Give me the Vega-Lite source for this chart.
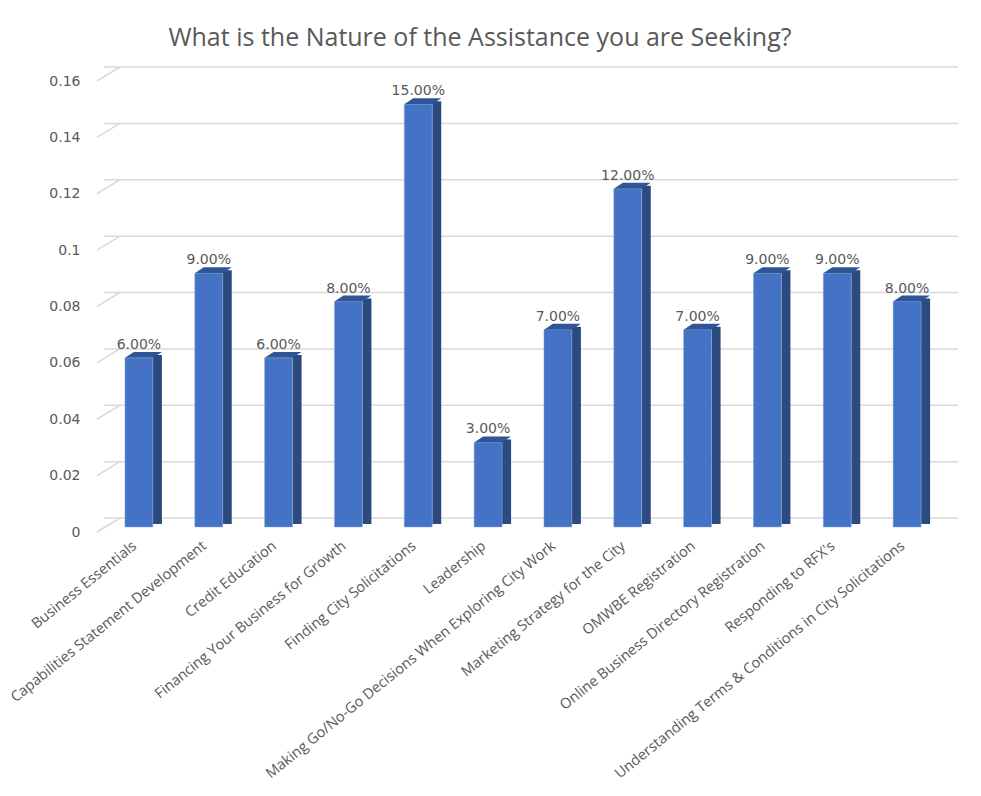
{
  "$schema": "https://vega.github.io/schema/vega-lite/v6.json",
  "autosize": "none",
  "width": 838,
  "height": 451,
  "padding": {"left": 104, "top": 76, "right": 39, "bottom": 269},
  "background": "white",
  "title": {
    "text": "What is the Nature of the Assistance you are Seeking?",
    "anchor": "middle",
    "dx": -43,
    "offset": 15,
    "font": "Open Sans",
    "fontSize": 25,
    "fontWeight": "normal",
    "color": "#595959"
  },
  "datasets": {
    "bars": [
      {"category": "Business Essentials", "share": 0.06},
      {"category": "Capabilities Statement Development", "share": 0.09},
      {"category": "Credit Education", "share": 0.06},
      {"category": "Financing Your Business for Growth", "share": 0.08},
      {"category": "Finding City Solicitations", "share": 0.15},
      {"category": "Leadership", "share": 0.03},
      {"category": "Making Go/No-Go Decisions When Exploring City Work", "share": 0.07},
      {"category": "Marketing Strategy for the City", "share": 0.12},
      {"category": "OMWBE Registration", "share": 0.07},
      {"category": "Online Business Directory Registration", "share": 0.09},
      {"category": "Responding to RFX's", "share": 0.09},
      {"category": "Understanding Terms & Conditions in City Solicitations", "share": 0.08}
    ],
    "ticks": [
      {"tick": 0}, {"tick": 0.02}, {"tick": 0.04}, {"tick": 0.06}, {"tick": 0.08},
      {"tick": 0.1}, {"tick": 0.12}, {"tick": 0.14}, {"tick": 0.16}
    ]
  },
  "layer": [
    {
      "data": {"name": "ticks"},
      "mark": {"type": "rule", "color": "#d9d9d9", "strokeWidth": 1.5, "xOffset": 16, "yOffset": -9},
      "encoding": {
        "y": {
          "field": "tick", "type": "quantitative", "title": null,
          "scale": {"domain": [0, 0.16]},
          "axis": {
            "values": [0, 0.02, 0.04, 0.06, 0.08, 0.1, 0.12, 0.14, 0.16],
            "format": ".2~f", "grid": false, "domain": false, "ticks": false,
            "labelPadding": 24, "labelOffset": 5, "labelFont": "DejaVu Sans",
            "labelFontSize": 14, "labelColor": "#595959"
          }
        }
      }
    },
    {
      "data": {"name": "ticks"},
      "mark": {"type": "rule", "color": "#d9d9d9", "strokeWidth": 1.5, "xOffset": -42, "x2Offset": -19, "yOffset": 5, "y2Offset": -9},
      "encoding": {
        "x": {"datum": "Business Essentials", "type": "nominal"},
        "x2": {"datum": "Business Essentials"},
        "y": {"field": "tick", "type": "quantitative"},
        "y2": {"field": "tick"}
      }
    },
    {
      "data": {"name": "bars"},
      "mark": {"type": "bar", "color": "#2B4A80", "width": 9, "xOffset": 18.5, "yOffset": -3, "y2Offset": -3},
      "encoding": {
        "x": {"field": "category", "type": "nominal", "sort": null},
        "y": {"field": "share", "type": "quantitative"}
      }
    },
    {
      "data": {"name": "bars"},
      "mark": {"type": "bar", "color": "#4472C4", "stroke": "#8FAADC", "strokeWidth": 0.5},
      "encoding": {
        "x": {
          "field": "category", "type": "nominal", "sort": null, "title": null,
          "scale": {"paddingInner": 0.6, "paddingOuter": 0.3},
          "axis": {
            "labelAngle": -39, "labelAlign": "right", "labelBaseline": "middle",
            "labelPadding": 17, "labelOffset": -4, "labelFont": "Open Sans", "labelFontSize": 14.5,
            "labelColor": "#595959", "domain": false, "ticks": false, "labelLimit": 500
          }
        },
        "y": {"field": "share", "type": "quantitative"}
      }
    },
    {
      "data": {"name": "bars"},
      "mark": {
        "type": "point", "filled": true, "opacity": 1, "color": "#2F5597", "size": 1369,
        "shape": "M -1 0.162 L 0.514 0.162 L 1 -0.162 L -0.514 -0.162 Z",
        "xOffset": 4.5, "yOffset": -3, "strokeWidth": 0
      },
      "encoding": {
        "x": {"field": "category", "type": "nominal", "sort": null},
        "y": {"field": "share", "type": "quantitative"}
      }
    },
    {
      "data": {"name": "bars"},
      "mark": {"type": "text", "dy": -13, "font": "DejaVu Sans", "fontSize": 14, "color": "#595959"},
      "encoding": {
        "x": {"field": "category", "type": "nominal", "sort": null},
        "y": {"field": "share", "type": "quantitative"},
        "text": {"field": "share", "type": "quantitative", "format": ".2%"}
      }
    }
  ],
  "config": {"view": {"stroke": null}}
}
